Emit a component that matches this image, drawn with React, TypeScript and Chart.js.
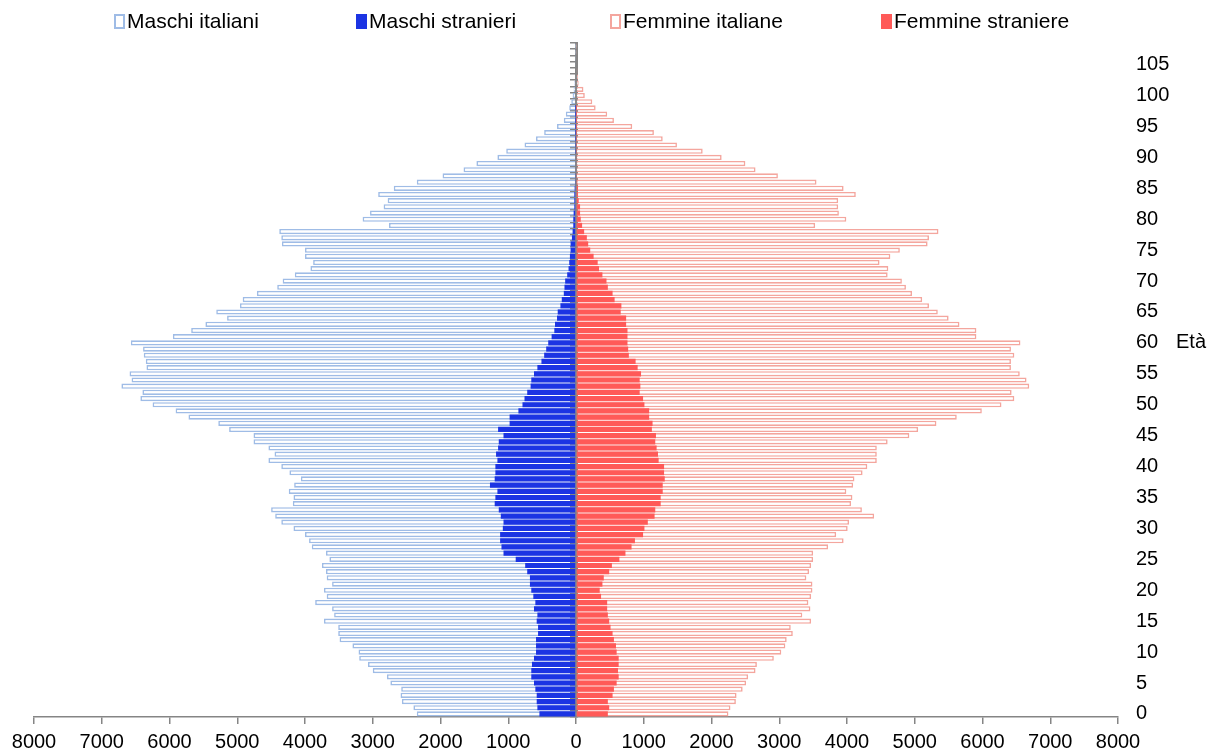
import React, { useEffect, useRef } from 'react';
import { Chart, registerables } from 'chart.js';

Chart.register(...registerables);

const ages = [
  0, 1, 2, 3, 4, 5, 6, 7, 8, 9, 10, 11, 12, 13, 14, 15, 16, 17, 18, 19,
  20, 21, 22, 23, 24, 25, 26, 27, 28, 29, 30, 31, 32, 33, 34, 35, 36, 37, 38, 39,
  40, 41, 42, 43, 44, 45, 46, 47, 48, 49, 50, 51, 52, 53, 54, 55, 56, 57, 58, 59,
  60, 61, 62, 63, 64, 65, 66, 67, 68, 69, 70, 71, 72, 73, 74, 75, 76, 77, 78, 79,
  80, 81, 82, 83, 84, 85, 86, 87, 88, 89, 90, 91, 92, 93, 94, 95, 96, 97, 98, 99,
  100, 101, 102, 103, 104, 105, 106, 107, 108,
];

const maschiItaliani = [
  2350, 2400, 2570, 2590, 2580, 2740, 2790, 3000, 3070, 3200,
  3210, 3300, 3490, 3510, 3510, 3720, 3570, 3600, 3850, 3680,
  3720, 3600, 3680, 3690, 3750, 3640, 3690, 3900, 3940, 4000,
  4170, 4350, 4440, 4500, 4180, 4170, 4240, 4160, 4060, 4230,
  4350, 4540, 4450, 4540, 4760, 4760, 5120, 5280, 5720, 5910,
  6250, 6430, 6400, 6710, 6560, 6590, 6340, 6350, 6380, 6390,
  6570, 5950, 5680, 5470, 5150, 5310, 4960, 4920, 4710, 4410,
  4330, 4150, 3920, 3880, 4000, 4000, 4340, 4350, 4380, 2760,
  3150, 3040, 2840, 2780, 2920, 2690, 2350, 1970, 1660, 1470,
  1160, 1030, 760, 590, 470, 280, 180, 150, 100, 70,
  50, 35, 25, 15, 10, 6, 4, 2, 1,
];

const maschiStranieri = [
  540, 570, 580, 580, 600, 620, 660, 660, 650, 620,
  590, 590, 590, 560, 560, 580, 570, 620, 600, 630,
  660, 680, 680, 720, 750, 890, 1070, 1100, 1120, 1120,
  1080, 1070, 1110, 1140, 1200, 1190, 1160, 1270, 1200, 1190,
  1190, 1160, 1180, 1150, 1140, 1070, 1150, 980, 980, 850,
  790, 760, 720, 670, 660, 620, 570, 510, 470, 440,
  410, 360, 320, 310, 280, 270, 230, 210, 180, 170,
  160, 130, 110, 100, 90, 80, 80, 60, 50, 40,
  40, 35, 25, 25, 25, 20, 15, 15, 10, 10,
  10, 5, 5, 3, 2, 2, 1, 1, 1, 0,
  0, 0, 0, 0, 0, 0, 0, 0, 0,
];

const femmineItaliane = [
  2250, 2280, 2360, 2370, 2460, 2510, 2540, 2650, 2670, 2920,
  3030, 3090, 3110, 3200, 3170, 3470, 3340, 3460, 3430, 3470,
  3490, 3490, 3400, 3440, 3470, 3500, 3500, 3720, 3950, 3840,
  4010, 4030, 4400, 4220, 4060, 4080, 3990, 4090, 4110, 4230,
  4300, 4440, 4440, 4440, 4600, 4920, 5050, 5320, 5620, 5990,
  6280, 6470, 6430, 6690, 6650, 6550, 6420, 6420, 6470, 6420,
  6560, 5910, 5910, 5660, 5500, 5340, 5210, 5110, 4960, 4870,
  4810, 4600, 4610, 4480, 4640, 4780, 5190, 5210, 5350, 3530,
  3990, 3880, 3870, 3870, 4130, 3950, 3550, 2980, 2650, 2500,
  2150, 1870, 1490, 1280, 1150, 830, 560, 460, 290, 240,
  130, 110, 40, 30, 20, 12, 8, 5, 3,
];

const femmineStraniere = [
  470, 490, 470, 540, 560, 600, 630, 620, 630, 630,
  600, 590, 560, 540, 510, 490, 470, 460, 460, 370,
  350, 390, 410, 490, 530, 640, 730, 820, 870, 990,
  1010, 1060, 1160, 1170, 1250, 1250, 1280, 1280, 1310, 1300,
  1300, 1220, 1210, 1190, 1170, 1180, 1120, 1130, 1080, 1080,
  1010, 990, 940, 950, 940, 960, 910, 880, 780, 770,
  760, 760, 760, 740, 740, 660, 670, 570, 540, 470,
  450, 390, 340, 320, 260, 210, 180, 160, 120, 90,
  70, 60, 60, 40, 30, 30, 20, 15, 12, 10,
  8, 6, 5, 4, 3, 2, 2, 1, 1, 0,
  0, 0, 0, 0, 0, 0, 0, 0, 0,
];

const xMin = -8000;
const xMax = 8000;
const xStep = 1000;
const ageLabelEvery = 5;

const FONT = "'Liberation Sans', Arial, Helvetica, sans-serif";
const BLUE_LIGHT = '#9fbce6';
const BLUE = '#1c34e3';
const PINK_LIGHT = '#f4a69e';
const RED = '#ff5a58';
const AXIS_GRAY = '#858585';

const legendItems = [
  { text: 'Maschi italiani', color: BLUE_LIGHT, filled: false, left: 114 },
  { text: 'Maschi stranieri', color: BLUE, filled: true, left: 356 },
  { text: 'Femmine italiane', color: PINK_LIGHT, filled: false, left: 610 },
  { text: 'Femmine straniere', color: RED, filled: true, left: 881 },
];

export default function App() {
  const ref = useRef<HTMLCanvasElement>(null);

  useEffect(() => {
    document.body.style.margin = '0';
    const canvas = ref.current;
    if (!canvas) return;
    const chart = new Chart(canvas, {
      type: 'bar',
      data: {
        labels: ages.map(String),
        datasets: [
          {
            label: 'Maschi italiani',
            data: maschiItaliani.map((v) => -v),
            backgroundColor: '#ffffff',
            borderColor: BLUE_LIGHT,
            borderWidth: 1.6,
            order: 1,
            grouped: false,
            barPercentage: 0.84,
            categoryPercentage: 1,
          } as any,
          {
            label: 'Maschi stranieri',
            data: maschiStranieri.map((v) => -v),
            backgroundColor: BLUE,
            borderWidth: 0,
            order: 0,
            grouped: false,
            barPercentage: 0.84,
            categoryPercentage: 1,
          } as any,
          {
            label: 'Femmine italiane',
            data: femmineItaliane,
            backgroundColor: '#ffffff',
            borderColor: PINK_LIGHT,
            borderWidth: 1.6,
            order: 1,
            grouped: false,
            barPercentage: 0.84,
            categoryPercentage: 1,
          } as any,
          {
            label: 'Femmine straniere',
            data: femmineStraniere,
            backgroundColor: RED,
            borderWidth: 0,
            order: 0,
            grouped: false,
            barPercentage: 0.84,
            categoryPercentage: 1,
          } as any,
        ],
      },
      options: {
        indexAxis: 'y',
        responsive: false,
        animation: false,
        layout: { padding: { left: 34, top: 43, right: 0, bottom: 0 } },
        plugins: {
          legend: { display: false },
          tooltip: { enabled: false },
        },
        scales: {
          x: {
            type: 'linear',
            min: xMin,
            max: xMax,
            ticks: {
              stepSize: xStep,
              callback: (v: any) => String(Math.abs(Number(v))),
              font: { family: FONT, size: 20 },
              color: '#000000',
              padding: 6,
              maxRotation: 0,
              autoSkip: false,
            },
            grid: {
              drawOnChartArea: false,
              drawTicks: true,
              tickLength: 7,
              color: AXIS_GRAY,
              lineWidth: 1.5,
            },
            border: { color: AXIS_GRAY, width: 1.5 },
            afterFit: (s: any) => {
              s.height = 37;
            },
          } as any,
          y: {
            type: 'category',
            position: 'right',
            reverse: true,
            offset: true,
            grid: { display: false },
            border: { display: false },
            ticks: {
              autoSkip: false,
              callback: (v: any) => {
                const a = ages[Number(v)];
                return a % ageLabelEvery === 0 ? String(a) : '';
              },
              font: { family: FONT, size: 20 },
              color: '#000000',
              padding: 10,
            },
            afterFit: (s: any) => {
              s.width = 102;
            },
          } as any,
          y2: {
            type: 'category',
            position: { x: 0 },
            reverse: true,
            offset: true,
            z: 1,
            grid: {
              offset: true,
              drawOnChartArea: false,
              drawTicks: true,
              tickLength: 5,
              color: AXIS_GRAY,
              lineWidth: 1.5,
            },
            border: { color: AXIS_GRAY, width: 3 },
            ticks: { display: false },
          } as any,
        },
      },
    });
    return () => chart.destroy();
  }, []);

  return (
    <div style={{ position: 'relative', width: 1220, height: 754, background: '#ffffff', fontFamily: FONT }}>
      <canvas ref={ref} width={1220} height={754} style={{ position: 'absolute', left: 0, top: 0 }} />
      {legendItems.map((it) => (
        <div
          key={it.text}
          style={{
            position: 'absolute',
            left: it.left,
            top: 9,
            height: 24,
            display: 'flex',
            alignItems: 'center',
            whiteSpace: 'nowrap',
          }}
        >
          <span
            style={{
              display: 'inline-block',
              width: 11,
              height: 15,
              boxSizing: 'border-box',
              border: it.filled ? 'none' : `2px solid ${it.color}`,
              background: it.filled ? it.color : '#ffffff',
              marginRight: 2,
            }}
          />
          <span style={{ fontSize: 21, lineHeight: '24px', color: '#000000' }}>{it.text}</span>
        </div>
      ))}
      <div
        style={{
          position: 'absolute',
          left: 1176,
          top: 329,
          fontSize: 20,
          lineHeight: '24px',
          color: '#000000',
        }}
      >
        Età
      </div>
    </div>
  );
}
